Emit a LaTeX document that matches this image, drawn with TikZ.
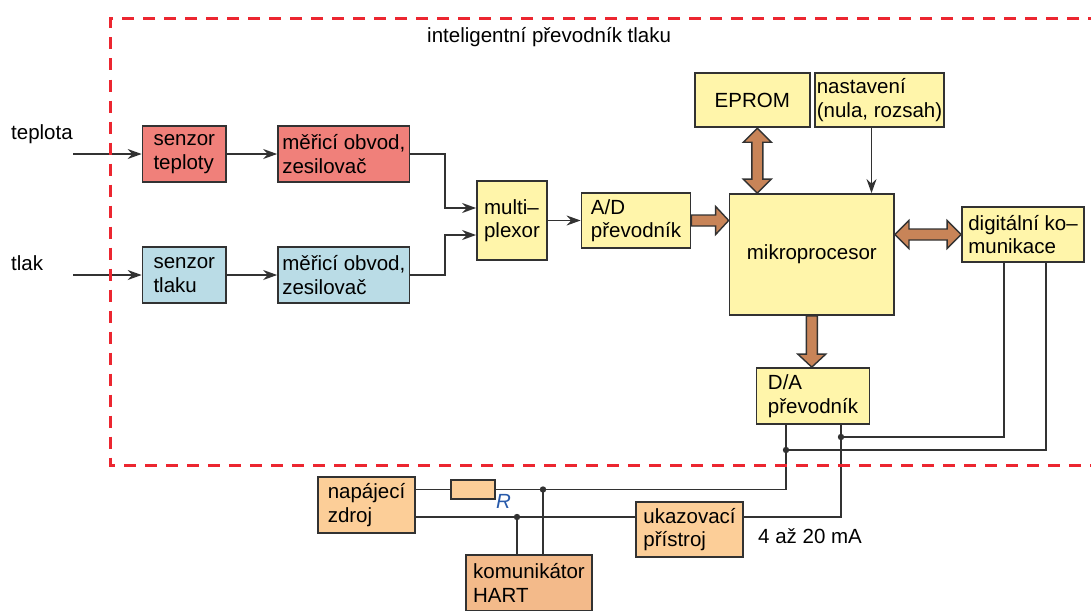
\documentclass[tikz,border=0pt]{standalone}
\usepackage{fontspec}
\setmainfont{Liberation Sans}
\usetikzlibrary{calc,arrows.meta}
\definecolor{redbox}{RGB}{240,128,122}
\definecolor{bluebox}{RGB}{186,220,230}
\definecolor{yelbox}{RGB}{255,245,170}
\definecolor{peach}{RGB}{252,206,152}
\definecolor{hartbox}{RGB}{243,186,138}
\definecolor{brownarr}{RGB}{200,132,88}
\definecolor{linegray}{RGB}{50,50,50}
\definecolor{dashred}{RGB}{236,38,48}
\definecolor{rblue}{RGB}{40,90,170}
\begin{document}
\begin{tikzpicture}[x=1pt,y=-1pt,font=\fontsize{20.5}{23.5}\selectfont]
        \tikzstyle{blk} = [draw=linegray, line width=1.8pt, inner sep=2pt, align=left, minimum height=56pt]
        \tikzstyle{lbl} = [inner sep=0pt, anchor=base west]
        \tikzstyle{sig} = [draw=linegray, line width=1.6pt, -{Stealth[length=14pt,width=10pt]}]
        \tikzstyle{wire} = [draw=linegray, line width=1.8pt]
        \tikzstyle{fat} = [draw=linegray, fill=brownarr, line width=1.4pt, to path={
          ($(\tikztotarget)!13pt!(\tikztostart)$) coordinate (fh)
          ($(\tikztostart)!5.5pt!90:(\tikztotarget)$) -- ($(fh)!5.5pt!90:(\tikztotarget)$)
          -- ($(fh)!14pt!90:(\tikztotarget)$) -- (\tikztotarget)
          -- ($(fh)!14pt!-90:(\tikztotarget)$) -- ($(fh)!5.5pt!-90:(\tikztotarget)$)
          -- ($(\tikztostart)!5.5pt!-90:(\tikztotarget)$) -- cycle}]
        \tikzstyle{fat2} = [draw=linegray, fill=brownarr, line width=1.4pt, to path={
          ($(\tikztostart)!14pt!(\tikztotarget)$) coordinate (fa)
          ($(\tikztotarget)!14pt!(\tikztostart)$) coordinate (fb)
          (\tikztostart) -- ($(fa)!14pt!90:(\tikztotarget)$) -- ($(fa)!5.5pt!90:(\tikztotarget)$)
          -- ($(fb)!5.5pt!90:(\tikztotarget)$) -- ($(fb)!14pt!90:(\tikztotarget)$) -- (\tikztotarget)
          -- ($(fb)!14pt!-90:(\tikztotarget)$) -- ($(fb)!5.5pt!-90:(\tikztotarget)$)
          -- ($(fa)!5.5pt!-90:(\tikztotarget)$) -- ($(fa)!14pt!-90:(\tikztotarget)$) -- cycle}]

        \useasboundingbox (0,0) rectangle (1091,610);

        \node[lbl] (title) at (427,43) {inteligentní převodník tlaku};
        \node[lbl] (tep) at (11,139) {teplota};
        \node[lbl] (tl) at (11,270) {tlak};
        \coordinate (tin) at (73,154);
        \coordinate (lin) at (73,275);

        \node[blk, fill=redbox, minimum width=83.5pt] (st) at (184.3,154) {senzor\\teploty};
        \node[blk, fill=redbox, minimum width=131.5pt] (mt) at (343.8,154) {měřicí obvod,\\zesilovač};
        \node[blk, fill=bluebox, minimum width=83.5pt] (sl) at (184.3,275) {senzor\\tlaku};
        \node[blk, fill=bluebox, minimum width=131.5pt] (ml) at (343.8,275) {měřicí obvod,\\zesilovač};
        \node[blk, fill=yelbox, minimum width=70pt, minimum height=79pt] (mux) at (512,220.5) {multi–\\plexor};
        \node[blk, fill=yelbox, minimum width=109pt, minimum height=55pt] (ad) at (636,220.5) {A/D\\převodník};
        \node[blk, fill=yelbox, minimum width=164.5pt, minimum height=121pt] (mikro) at (811.8,254.5) {mikroprocesor};
        \node[blk, fill=yelbox, minimum width=114.6pt, minimum height=54.6pt] (eprom) at (752.3,100) {EPROM};
        \node[blk, fill=yelbox, minimum width=129pt, minimum height=54.6pt] (nast) at (879.5,100) {nastavení\\(nula, rozsah)};
        \node[blk, fill=yelbox, minimum width=122pt, minimum height=55pt] (dig) at (1023,234.5) {digitální ko–\\munikace};
        \node[blk, fill=yelbox, minimum width=113pt] (da) at (813,396) {D/A\\převodník};
        \node[blk, fill=peach, minimum width=97pt] (nap) at (366.5,505) {napájecí\\zdroj};
        \node[blk, fill=peach, minimum width=44pt, minimum height=19pt, inner sep=0pt] (res) at (473,489.5) {};
        \node[blk, fill=peach, minimum width=107pt, minimum height=55pt] (uk) at (689.5,529.5) {ukazovací\\přístroj};
        \node[blk, fill=hartbox, minimum width=126pt] (hart) at (529,583) {komunikátor\\HART};
        \node[text=rblue, font=\fontsize{20.5}{23.5}\selectfont\itshape] (rlab) at (503.5,501.5) {R};
        \node[lbl] (ma) at (758,543) {4 až 20 mA};

        \draw[sig] (tin) -- (st);
        \draw[sig] (lin) -- (sl);
        \draw[sig] (st) -- (mt);
        \draw[sig] (sl) -- (ml);
        \draw[sig] (mt.east) -- ++(34.5,0) |- ([yshift=12.5pt]mux.west);
        \draw[sig] (ml.east) -- ++(34.5,0) |- ([yshift=-14.5pt]mux.west);
        \draw[sig] (mux) -- (ad);
        \draw[sig] ([xshift=-8pt]nast.south) -- ([xshift=-8pt]nast.south |- mikro.north);

        \draw[fat] (ad.east) to (ad.east -| mikro.west);
        \draw[fat2] ([xshift=5pt]eprom.south) to ([xshift=5pt]eprom.south |- mikro.north);
        \draw[fat2] (mikro.east |- dig.west) to (dig.west);
        \draw[fat] (mikro.south) to (mikro.south |- da.north);

        \coordinate (dl) at ([xshift=-27pt]da.south);
        \coordinate (dr) at ([xshift=28pt]da.south);
        \coordinate (jl) at (dl |- 0,450);
        \coordinate (jr) at (dr |- 0,437);
        \coordinate (jt) at (543,489.5);
        \coordinate (jb) at (517,517);

        \draw[wire] (nap.east |- res) -- (res.west);
        \draw[wire] (res.east) -- (jt) -| (dl);
        \draw[wire] (nap.east |- jb) -- (uk.west |- jb);
        \draw[wire] (uk.east |- jb) -| (dr);
        \draw[wire] (jt) -- (jt |- hart.north);
        \draw[wire] (jb) -- (jb |- hart.north);
        \draw[wire] ([xshift=-19pt]dig.south) |- (jr);
        \draw[wire] ([xshift=23pt]dig.south) |- (jl);
        \foreach \j in {jt,jb,jl,jr}
          \fill[linegray] (\j) circle (3.2pt);

        \draw[dashred, line width=3pt, dash pattern=on 12pt off 9pt] (1100,19) -- (110.5,19) -- (110.5,465) -- (1100,465);
      \end{tikzpicture}
\end{document}
